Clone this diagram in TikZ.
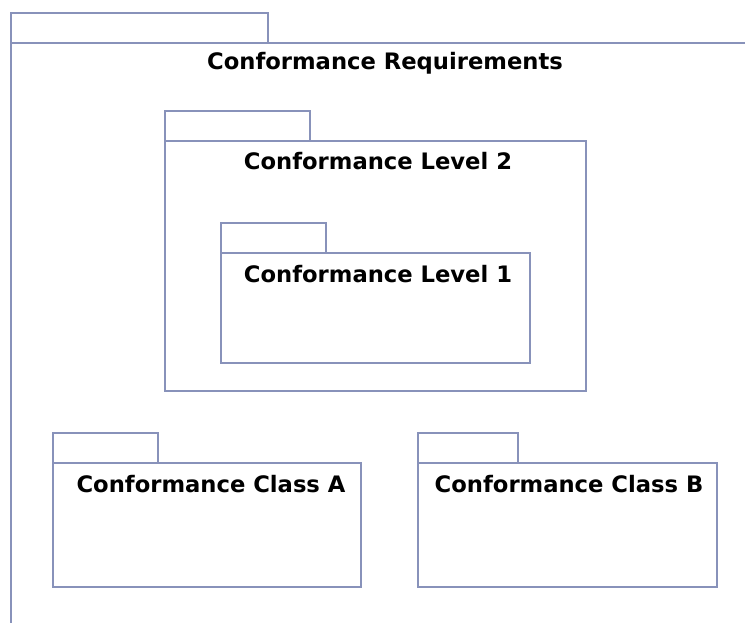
\documentclass[tikz,border=0pt]{standalone}
\usepackage{fontspec}
\setmainfont{DejaVu Sans}
\usepackage{tikz}
\usetikzlibrary{positioning}
\definecolor{pkgline}{RGB}{136,146,186}
\newdimen\pxu \pxu=0.75pt

\begin{document}
\begin{tikzpicture}[
  x=0.75pt, y=-0.75pt,
  pkgbody/.style={draw=pkgline, line width=1pt, anchor=north west, inner sep=0pt, outer sep=0pt},
  pkgtab/.style={draw=pkgline, line width=1pt, anchor=south west, inner sep=0pt, outer sep=0pt, minimum height=30*\pxu},
  pkgname/.style={anchor=base, font=\fontsize{17}{20}\selectfont\bfseries}
]
\clip (0,0) rectangle (745,623);
% outer package, cut by the page edge
\node[pkgbody, minimum width=800*\pxu, minimum height=650*\pxu] (req) at (11,43) {};
\node[pkgtab, minimum width=257*\pxu] (reqtab) at (req.north west) {};
\node[pkgname] (reqname) at (385,70) {Conformance Requirements};
% levels
\node[pkgbody, minimum width=421*\pxu, minimum height=250*\pxu] (lvltwo) at (165,141) {};
\node[pkgtab, minimum width=145*\pxu] (lvltwotab) at (lvltwo.north west) {};
\node[pkgname] (lvltwoname) at (378,170) {Conformance Level 2};
\node[pkgbody, minimum width=309*\pxu, minimum height=110*\pxu] (lvlone) at (221,253) {};
\node[pkgtab, minimum width=105*\pxu] (lvlonetab) at (lvlone.north west) {};
\node[pkgname] (lvlonename) at (378,282) {Conformance Level 1};
% classes
\node[pkgbody, minimum width=308*\pxu, minimum height=124*\pxu] (clsa) at (53,463) {};
\node[pkgtab, minimum width=105*\pxu] (clsatab) at (clsa.north west) {};
\node[pkgname] (clsaname) at (211,492) {Conformance Class A};
\node[pkgbody, minimum width=299*\pxu, minimum height=124*\pxu] (clsb) at (418,463) {};
\node[pkgtab, minimum width=100*\pxu] (clsbtab) at (clsb.north west) {};
\node[pkgname] (clsbname) at (569,492) {Conformance Class B};
\end{tikzpicture}
\end{document}
